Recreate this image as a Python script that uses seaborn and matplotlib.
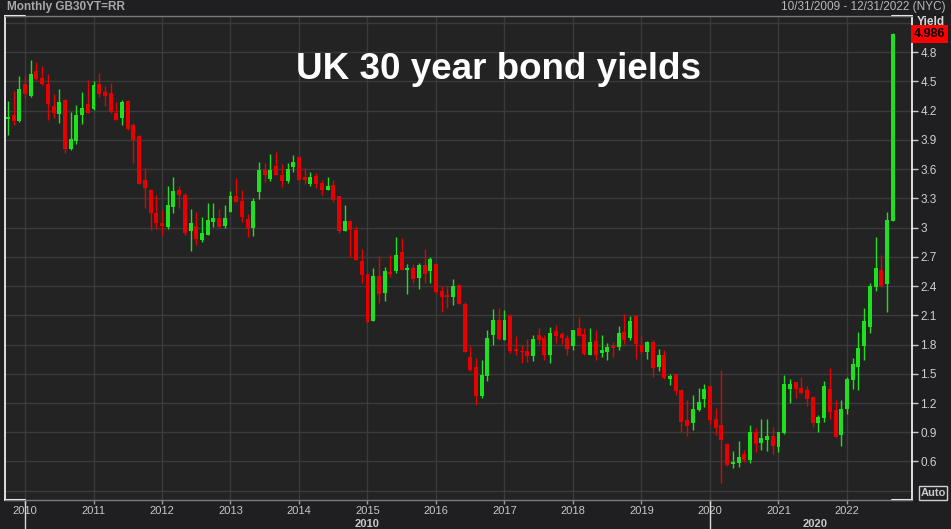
# UK 30 year gilt yield, monthly candles (Oct 2009 - Sep 2022)

import numpy as np
import pandas as pd
import seaborn as sns
from matplotlib import pyplot as plt

sns.set_theme(style="dark", rc={
    "axes.facecolor": "#232323",
    "figure.facecolor": "#1f1e21",
    "grid.color": "#3b3b3b",
    "grid.linewidth": 1.0,
})
plt.rcParams['font.family'] = ['Liberation Sans', 'DejaVu Sans']

# one candle per month
months = pd.date_range("2009-10-01", "2022-09-01", freq="MS")

opens = [4.11, 4.15, 4.09,
         4.47, 4.35, 4.61, 4.53, 4.47, 4.25, 4.16, 4.31, 3.81, 3.89, 4.15, 4.27,
         4.22, 4.47, 4.39, 4.38, 4.18, 4.12, 4.30, 4.05, 3.94, 3.49, 3.38, 3.15,
         3.05, 3.01, 3.21, 3.39, 3.33, 2.96, 3.02, 2.87, 2.92, 3.06, 3.10, 3.02,
         3.16, 3.32, 3.27, 3.09, 3.00, 3.36, 3.59, 3.50, 3.63, 3.54, 3.48, 3.62,
         3.72, 3.52, 3.45, 3.53, 3.46, 3.39, 3.44, 3.32, 2.96, 3.07, 2.97, 2.66,
         2.52, 2.04, 2.50, 2.33, 2.54, 2.55, 2.75, 2.56, 2.59, 2.48, 2.62, 2.55,
         2.63, 2.35, 2.31, 2.29, 2.41, 2.22, 1.67, 1.57, 1.27, 1.48, 1.90, 2.05,
         1.85, 2.09, 1.75, 1.73, 1.73, 1.68, 1.90, 1.87, 1.69, 1.94, 1.91, 1.87,
         1.78, 1.97, 1.91, 1.69, 1.84, 1.71, 1.72, 1.78, 1.77, 1.93, 1.87, 2.09,
         1.80, 1.72, 1.83, 1.57, 1.69, 1.45, 1.50, 1.33, 1.03, 0.99, 1.13, 1.24,
         1.37, 1.04, 0.97, 0.78, 0.57, 0.58, 0.68, 0.62, 0.90, 0.79, 0.82, 0.86,
         0.75, 0.89, 1.34, 1.42, 1.35, 1.33, 1.26, 1.00, 1.05, 1.34, 1.13, 0.87,
         1.14, 1.44, 1.57, 1.78, 1.98, 2.39, 2.56, 2.42, 3.07]

highs = [4.30, 4.40, 4.55,
         4.55, 4.72, 4.70, 4.66, 4.58, 4.37, 4.42, 4.32, 4.19, 4.26, 4.39, 4.51,
         4.50, 4.59, 4.45, 4.48, 4.29, 4.31, 4.31, 4.07, 3.95, 3.61, 3.40, 3.33,
         3.18, 3.43, 3.52, 3.43, 3.35, 3.19, 3.16, 3.11, 3.25, 3.25, 3.19, 3.23,
         3.37, 3.51, 3.38, 3.14, 3.30, 3.67, 3.66, 3.75, 3.77, 3.65, 3.66, 3.74,
         3.73, 3.61, 3.57, 3.56, 3.49, 3.52, 3.49, 3.32, 3.23, 3.08, 3.02, 2.78,
         2.53, 2.58, 2.71, 2.60, 2.72, 2.90, 2.89, 2.63, 2.63, 2.64, 2.78, 2.70,
         2.63, 2.40, 2.40, 2.47, 2.41, 2.24, 1.78, 1.66, 1.64, 1.95, 2.16, 2.17,
         2.15, 2.11, 1.89, 1.80, 1.86, 1.90, 1.97, 1.90, 1.98, 2.00, 1.93, 1.90,
         1.95, 2.08, 1.97, 1.97, 1.95, 1.90, 1.82, 1.83, 1.99, 2.11, 2.09, 2.10,
         1.90, 1.84, 1.85, 1.75, 1.74, 1.50, 1.50, 1.33, 1.23, 1.28, 1.35, 1.40,
         1.37, 1.15, 1.54, 0.79, 0.71, 0.81, 0.72, 0.97, 0.94, 1.04, 1.04, 0.95,
         0.90, 1.49, 1.45, 1.42, 1.47, 1.37, 1.26, 1.08, 1.43, 1.56, 1.23, 1.23,
         1.47, 1.66, 1.93, 2.17, 2.43, 2.90, 2.72, 3.16, 5.00]

lows = [3.95, 4.05, 4.08,
        4.33, 4.34, 4.51, 4.46, 4.10, 4.12, 4.07, 3.76, 3.80, 3.86, 4.06, 4.17,
        4.21, 4.34, 4.25, 4.17, 4.10, 4.05, 4.00, 3.66, 3.45, 3.20, 2.97, 2.98,
        2.92, 2.99, 3.15, 3.20, 2.92, 2.76, 2.82, 2.85, 2.92, 3.01, 3.00, 3.00,
        3.16, 3.26, 3.06, 2.90, 2.91, 3.29, 3.47, 3.48, 3.54, 3.42, 3.46, 3.57,
        3.49, 3.45, 3.43, 3.41, 3.33, 3.38, 3.26, 2.94, 2.96, 2.70, 2.67, 2.43,
        2.03, 2.04, 2.23, 2.25, 2.49, 2.53, 2.56, 2.32, 2.43, 2.37, 2.43, 2.43,
        2.33, 2.13, 2.17, 2.21, 2.22, 1.72, 1.53, 1.18, 1.25, 1.43, 1.80, 1.85,
        1.85, 1.71, 1.69, 1.61, 1.62, 1.63, 1.81, 1.64, 1.61, 1.82, 1.81, 1.69,
        1.74, 1.89, 1.69, 1.69, 1.64, 1.67, 1.64, 1.67, 1.74, 1.81, 1.85, 1.65,
        1.70, 1.65, 1.47, 1.53, 1.45, 1.38, 1.28, 0.90, 0.86, 0.92, 1.12, 1.16,
        0.98, 0.87, 0.38, 0.55, 0.53, 0.54, 0.59, 0.58, 0.70, 0.72, 0.71, 0.68,
        0.70, 0.88, 1.20, 1.25, 1.29, 1.17, 0.95, 0.90, 1.01, 1.04, 0.85, 0.76,
        1.09, 1.34, 1.33, 1.64, 1.92, 2.35, 2.39, 2.13, 3.07]

closes = [4.13, 4.09, 4.42,
          4.37, 4.57, 4.52, 4.47, 4.27, 4.18, 4.29, 3.81, 3.91, 4.15, 4.23, 4.18,
          4.46, 4.37, 4.35, 4.19, 4.10, 4.29, 4.01, 3.90, 3.45, 3.41, 3.15, 3.05,
          3.02, 3.23, 3.37, 3.33, 2.94, 3.05, 2.88, 2.94, 3.08, 3.10, 3.01, 3.10,
          3.32, 3.26, 3.11, 3.00, 3.27, 3.59, 3.54, 3.59, 3.54, 3.48, 3.60, 3.67,
          3.49, 3.49, 3.52, 3.45, 3.38, 3.43, 3.28, 2.96, 3.07, 2.97, 2.67, 2.51,
          2.03, 2.50, 2.32, 2.55, 2.52, 2.72, 2.56, 2.59, 2.47, 2.62, 2.52, 2.68,
          2.34, 2.29, 2.29, 2.40, 2.22, 1.72, 1.54, 1.27, 1.49, 1.87, 2.05, 1.86,
          2.05, 1.73, 1.73, 1.72, 1.68, 1.86, 1.85, 1.69, 1.92, 1.89, 1.87, 1.75,
          1.95, 1.89, 1.70, 1.83, 1.69, 1.74, 1.77, 1.76, 1.92, 1.85, 2.04, 1.81,
          1.72, 1.83, 1.56, 1.69, 1.46, 1.48, 1.32, 1.01, 0.96, 1.14, 1.21, 1.34,
          1.03, 0.94, 0.82, 0.56, 0.59, 0.65, 0.62, 0.90, 0.78, 0.84, 0.86, 0.76,
          0.90, 1.39, 1.39, 1.34, 1.30, 1.24, 0.99, 1.06, 1.37, 1.11, 0.85, 1.14,
          1.45, 1.60, 1.76, 2.04, 2.40, 2.58, 2.40, 3.08, 4.986]

year_ticks = list(range(2010, 2023))
yield_ticks = [0.6, 0.9, 1.2, 1.5, 1.8, 2.1, 2.4, 2.7, 3.0, 3.3, 3.6, 3.9, 4.2, 4.5, 4.8]

df = pd.DataFrame({"month": months, "open": opens, "high": highs,
                   "low": lows, "close": closes})
df["x"] = df["month"].dt.year + (df["month"].dt.month - 1) / 12
df["up"] = df["close"] >= df["open"]
colors = np.where(df["up"], "#1fe01f", "#e80000")

W, H = 951, 529
fig = plt.figure(figsize=(W / 100, H / 100), dpi=100)
ax = fig.add_axes([5 / W, 29 / H, 907 / W, 484 / H])

# candles: wick + body
ax.vlines(df["x"], df["low"], df["high"], colors=colors, lw=1.0)
body = np.maximum((df["close"] - df["open"]).abs(), 0.012)
ax.bar(df["x"], body, bottom=np.minimum(df["open"], df["close"]),
       width=0.058, color=colors, linewidth=0)

ax.set_xlim(2009.708, 2022.949)
ax.set_ylim(0.205, 5.17)

ax.set_xticks(year_ticks)
ax.set_xticklabels([str(y) for y in year_ticks])
ax.set_yticks(yield_ticks)
ax.set_yticklabels(["%g" % t for t in yield_ticks])
ax.set_yticks([0.3, 5.1], minor=True)
ax.yaxis.tick_right()
ax.grid(True, which="both", axis="y")
ax.grid(True, which="major", axis="x")
ax.tick_params(axis="y", which="major", direction="out", length=4, width=1,
               color="#c8c8c8", labelcolor="#d0d0d0", labelsize=8.5, pad=2)
ax.tick_params(axis="y", which="minor", length=0)
ax.tick_params(axis="x", direction="out", length=3, width=1, color="#9a9a9a",
               labelcolor="#c8c8c8", labelsize=8, pad=1.5)
ax.tick_params(axis="both", which="both", left=False, bottom=True)

for side in ["top", "bottom"]:
    ax.spines[side].set_color("#7a7a7a")
    ax.spines[side].set_linewidth(1)
for side in ["left", "right"]:
    ax.spines[side].set_color("white")
    ax.spines[side].set_linewidth(1.2)
    ax.spines[side].set_visible(True)

# white corner brackets
for x0, x1 in [(0, 0.022), (0.978, 1.0)]:
    for yy in [0, 1]:
        ax.plot([x0, x1], [yy, yy], color="white", lw=1.5,
                transform=ax.transAxes, clip_on=False)

# decade separators and labels
trans = ax.get_xaxis_transform()
for xd in [2010, 2020]:
    ax.plot([xd, xd], [0, -0.062], color="#d8d8d8", lw=1, transform=trans,
            clip_on=False)
fig.text(367 / W, 1 - 524 / H, "2010", ha="center", va="center",
         fontsize=8, weight="bold", color="#c8c8c8")
fig.text(815 / W, 1 - 524 / H, "2020", ha="center", va="center",
         fontsize=8, weight="bold", color="#c8c8c8")

# headers
fig.text(7 / W, 1 - 7 / H, "Monthly GB30YT=RR", ha="left", va="center",
         fontsize=8.5, weight="bold", color="#a8a8a8")
fig.text(946 / W, 1 - 7 / H, "10/31/2009 - 12/31/2022 (NYC)", ha="right",
         va="center", fontsize=8.5, color="#b8b8b8")
fig.text(931 / W, 1 - 22 / H, "Yield", ha="center", va="center",
         fontsize=8.5, weight="bold", color="#d8d8d8")

# last value flag
ax.text(1.002, closes[-1], "%.3f" % closes[-1], transform=ax.get_yaxis_transform(),
        ha="left", va="center", fontsize=9, weight="bold", color="black",
        bbox=dict(boxstyle="square,pad=0.25", facecolor="#ff0000", edgecolor="none"),
        clip_on=False)

fig.text(933 / W, 1 - 493 / H, "Auto", ha="center", va="center",
         fontsize=8, weight="bold", color="#c8c8c8",
         bbox=dict(boxstyle="square,pad=0.15", facecolor="none",
                   edgecolor="#d0d0d0", linewidth=1))

# title
fig.text(499 / W, 1 - 79 / H, "UK 30 year bond yields", ha="center",
         va="baseline", fontsize=26.5, weight="bold", color="white")

fig.savefig("out.png", dpi=100)
